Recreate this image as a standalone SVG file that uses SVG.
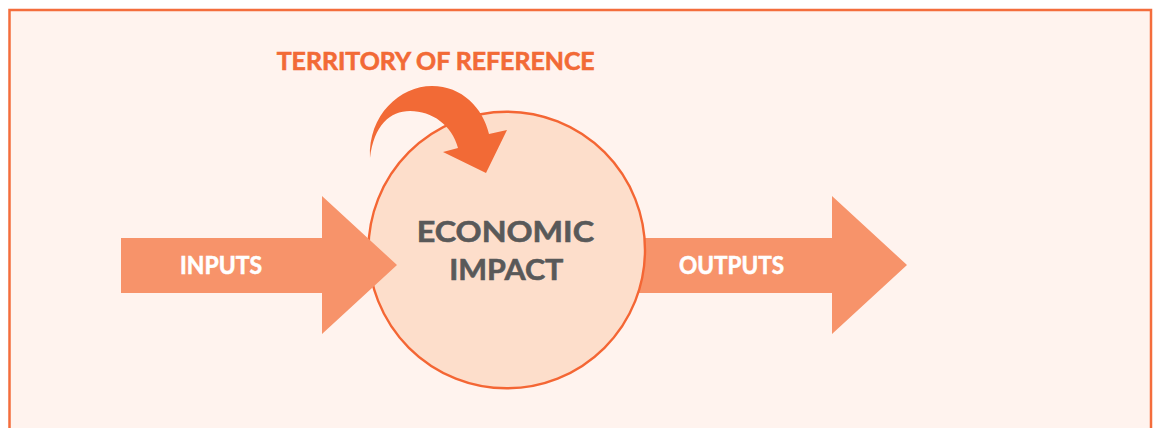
<svg xmlns="http://www.w3.org/2000/svg" width="1160" height="428" viewBox="0 0 1160 428">
  <style>
    .lbl { font-family: "Lato", "DejaVu Sans", sans-serif; font-weight: 700; stroke-width: 0.6; }
    .white { fill: #FFFFFF; stroke: #FFFFFF; }
    .grey { fill: #595959; stroke: #595959; }
    .orange { fill: #F26A36; }
    .otext { stroke: #F26A36; }
    .flow { fill: #F7936A; }
  </style>
  <rect x="0" y="0" width="1160" height="428" fill="#FFFFFF"/>
  <g id="frame">
    <rect x="9.5" y="10" width="1141.5" height="440" fill="#FFF3EE" stroke="#F46D3C" stroke-width="2.5"/>
  </g>
  <g id="outputs">
    <polygon class="flow" points="600,238 832,238 832,196 907,265 832,334 832,293 600,293"/>
    <text class="lbl white" x="679" y="274.3" font-size="25" textLength="105" lengthAdjust="spacingAndGlyphs">OUTPUTS</text>
  </g>
  <g id="economic-impact">
    <circle cx="506.7" cy="250" r="138.3" fill="#FDDECB" stroke="#F46634" stroke-width="2.4"/>
    <text class="lbl grey" x="416.7" y="242.3" font-size="29" textLength="177.3" lengthAdjust="spacingAndGlyphs">ECONOMIC</text>
    <text class="lbl grey" x="449.3" y="280" font-size="29" textLength="114" lengthAdjust="spacingAndGlyphs">IMPACT</text>
  </g>
  <g id="inputs">
    <polygon class="flow" points="121,238 322,238 322,196 397,265 322,334 322,293 121,293"/>
    <text class="lbl white" x="180" y="274.3" font-size="25" textLength="82" lengthAdjust="spacingAndGlyphs">INPUTS</text>
  </g>
  <g id="territory">
    <text class="lbl orange otext" x="276.7" y="70" font-size="24" textLength="318" lengthAdjust="spacingAndGlyphs">TERRITORY OF REFERENCE</text>
  </g>
  <g id="connectors">
    <path class="orange" d="M370,158 C368,115 400,86 432,86 C462,86 483,108 489,134 L507,130 L486,173 L443,152 L458,148 C452,125 432,111 410,111 C390,111 374,125 370,158 Z"/>
  </g>
</svg>
